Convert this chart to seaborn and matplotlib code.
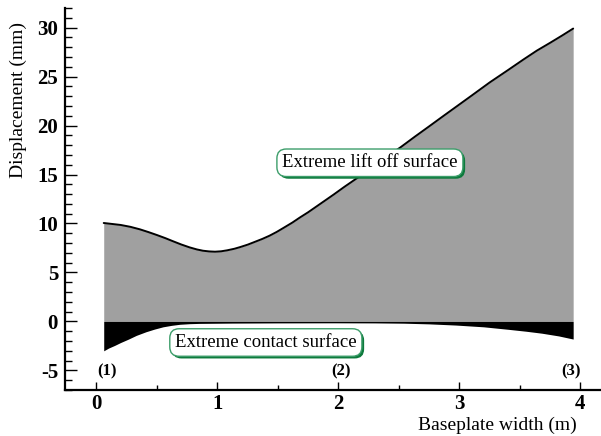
import matplotlib
matplotlib.use("Agg")
import matplotlib.pyplot as plt
import matplotlib.patheffects as pe
from matplotlib.ticker import MultipleLocator, FixedLocator
import pandas as pd
import seaborn as sns

# Extreme lift-off surface (upper envelope), baseplate position in m, displacement in mm
lift_x = [0.06, 0.20, 0.28, 0.36, 0.43, 0.50, 0.57, 0.63, 0.70, 0.77, 0.83, 0.88, 0.93,
          0.98, 1.03, 1.08, 1.14, 1.19, 1.25, 1.30, 1.37, 1.43, 1.49, 1.55, 1.62, 1.68,
          1.75, 1.82, 1.89, 1.96, 2.05, 2.15, 2.24, 2.33, 2.42, 2.51, 2.63, 2.75, 2.87,
          2.98, 3.10, 3.25, 3.40, 3.53, 3.64, 3.75, 3.85, 3.94]
lift_y = [10.05, 9.85, 9.66, 9.40, 9.12, 8.82, 8.50, 8.20, 7.86, 7.56, 7.35, 7.22, 7.15,
          7.12, 7.16, 7.26, 7.42, 7.60, 7.84, 8.08, 8.42, 8.75, 9.14, 9.58, 10.10, 10.60,
          11.15, 11.75, 12.35, 12.95, 13.75, 14.60, 15.40, 16.20, 17.00, 17.75, 18.85, 19.92, 21.00,
          21.98, 23.05, 24.40, 25.65, 26.75, 27.65, 28.45, 29.20, 29.90]

# Extreme contact surface (lower envelope)
contact_x = [0.06, 0.10, 0.15, 0.20, 0.265, 0.33, 0.41, 0.48, 0.55, 0.62, 0.69, 0.77,
             0.85, 1.12, 1.50, 1.97, 2.30, 2.54, 2.75, 2.97, 3.20, 3.40, 3.55, 3.68, 3.82, 3.94]
contact_y = [-3.00, -2.72, -2.45, -2.15, -1.80, -1.42, -1.05, -0.78, -0.55, -0.40, -0.29, -0.23,
             -0.20, -0.17, -0.15, -0.14, -0.15, -0.18, -0.25, -0.37, -0.55, -0.80, -1.00, -1.20, -1.48, -1.80]

# Reference points along the baseplate
point_labels = ["(1)", "(2)", "(3)"]
point_x = [0.085, 2.02, 3.92]
point_y = [-5.1, -5.1, -5.1]

x_ticks = [0, 1, 2, 3, 4]
y_ticks = [-5, 0, 5, 10, 15, 20, 25, 30]

sns.set_theme(style="ticks")
plt.rcParams["font.family"] = ["Liberation Serif", "DejaVu Serif"]
plt.rcParams.update({"text.color": "black", "axes.labelcolor": "black",
                     "xtick.color": "black", "ytick.color": "black"})

fig = plt.figure(figsize=(6.01, 4.36), dpi=100)
W, H = 601, 436
ax = fig.add_axes([65 / W, 1 - 390 / H, 1 - 65 / W, (390 - 8) / H])

lift = pd.DataFrame({"x": lift_x, "y": lift_y})
contact = pd.DataFrame({"x": contact_x, "y": contact_y})

ax.fill_between(lift["x"], 0, lift["y"], color="#a0a0a0", lw=0, zorder=1)
ax.fill_between(contact["x"], contact["y"], 0, color="black", lw=0, zorder=1)
sns.lineplot(data=lift, x="x", y="y", ax=ax, color="black", lw=1.4,
             sort=False, estimator=None, zorder=2)

ax.set_xlim(-0.26, 4.17)
ax.set_ylim(-7, 32)

ax.xaxis.set_major_locator(FixedLocator(x_ticks))
ax.xaxis.set_minor_locator(MultipleLocator(0.5))
ax.yaxis.set_major_locator(FixedLocator(y_ticks))
ax.yaxis.set_minor_locator(MultipleLocator(1))
ax.set_xticklabels([str(v) for v in x_ticks], fontweight="bold", fontsize=15)
ax.set_yticklabels([str(v) for v in y_ticks], fontweight="bold", fontsize=15)

ax.tick_params(axis="x", which="major", direction="in", length=5.5, width=1.0, pad=3, colors="black")
ax.tick_params(axis="x", which="minor", direction="in", length=3.5, width=1.0, colors="black")
ax.tick_params(axis="y", which="major", direction="in", length=8.5, width=1.0, pad=5, colors="black")
ax.tick_params(axis="y", which="minor", direction="in", length=5, width=1.0, colors="black")

for side in ("top", "right"):
    ax.spines[side].set_visible(False)
for side in ("left", "bottom"):
    ax.spines[side].set_linewidth(1.6)
    ax.spines[side].set_color("black")

ax.set_xlabel("Baseplate width (m)", fontsize=14, color="black")
ax.xaxis.set_label_coords(0.806, -0.093)
ax.xaxis.label.set_va("center")
ax.set_ylabel("Displacement (mm)", fontsize=14, color="black")
ax.yaxis.set_label_coords(-0.0877, 0.759)
ax.yaxis.label.set_va("center")

for lab, px, py in zip(point_labels, point_x, point_y):
    ax.text(px, py, lab, ha="center", va="center", fontsize=12, fontweight="bold", color="black")

box_style = dict(boxstyle="round,pad=0.28,rounding_size=0.5", facecolor="white",
                 edgecolor="#3c9d6a", linewidth=1.0)
for txt, tx, ty in [("Extreme lift off surface", 2.26, 16.2),
                    ("Extreme contact surface", 1.40, -2.15)]:
    t = ax.text(tx, ty, txt, ha="center", va="center", fontsize=13.5, zorder=5,
                color="black", bbox=box_style)
    t.get_bbox_patch().set_path_effects([
        pe.SimplePatchShadow(offset=(1.6, -1.6), shadow_rgbFace="#0d7a3c", alpha=1.0),
        pe.Normal(),
    ])

fig.savefig("out.png", dpi=100)
